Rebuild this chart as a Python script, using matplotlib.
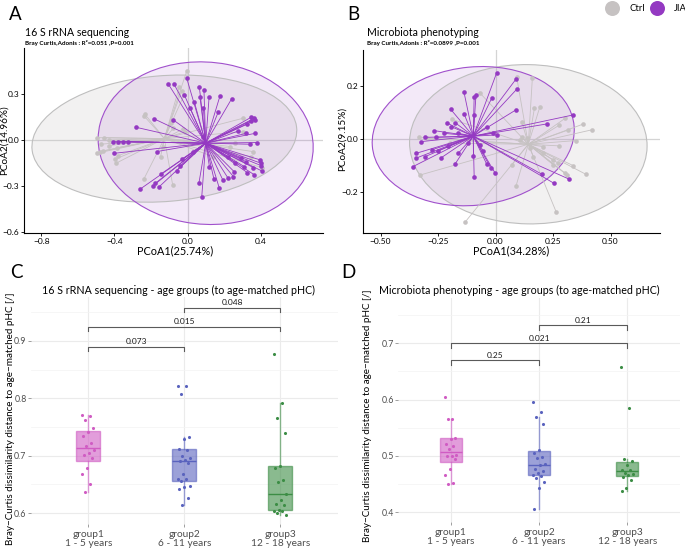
import numpy as np
import matplotlib
matplotlib.use('Agg')
import matplotlib.pyplot as plt
from matplotlib.patches import Ellipse
from matplotlib.lines import Line2D
from matplotlib.ticker import FuncFormatter

plt.rcParams['font.family'] = ['Lato', 'DejaVu Sans']

# ---------------- data ----------------
# Panel A: 16 S rRNA sequencing PCoA
a_jia_x = [-0.106, -0.075, -0.005, -0.018, 0.064, 0.089, 0.067, 0.117, 0.177, 0.241,
           0.036, 0.013, 0.086, 0.168, -0.182, -0.283, -0.078, 0.347, 0.363, 0.368,
           0.345, 0.323, 0.277, 0.319, 0.368, 0.086, -0.407, -0.379, -0.356, -0.328,
           -0.401, 0.341, 0.378, -0.170, -0.033, -0.042, -0.060, -0.146, -0.177, -0.188,
           -0.159, -0.259, 0.062, 0.173, 0.077, 0.223, 0.259, 0.290, 0.319, 0.310,
           0.326, 0.359, 0.365, 0.396, 0.401, 0.401, 0.405, 0.254, 0.192, 0.219,
           0.250, 0.144, 0.119, 0.031]
a_jia_y = [0.365, 0.365, 0.402, 0.293, 0.343, 0.326, 0.283, 0.278, 0.289, 0.270,
           0.250, 0.207, 0.207, 0.185, 0.137, 0.083, 0.130, 0.148, 0.141, 0.130,
           0.126, 0.102, 0.059, 0.043, 0.043, 0.017, -0.011, -0.011, -0.011, -0.011,
           -0.087, -0.028, -0.017, -0.076, -0.126, -0.170, -0.200, -0.222, -0.283, -0.298,
           -0.309, -0.320, -0.278, -0.315, -0.370, -0.109, -0.148, -0.120, -0.141, -0.174,
           -0.213, -0.180, -0.228, -0.130, -0.152, -0.167, -0.202, -0.207, -0.261, -0.246,
           -0.239, -0.257, -0.174, -0.076]
a_ctrl_x = [-0.005, -0.046, -0.033, -0.020, -0.233, -0.239, -0.089, -0.078, -0.027,
            -0.498, -0.458, -0.429, -0.476, -0.429, -0.385, -0.498, -0.480, -0.465, -0.379, -0.398, -0.392,
            -0.137, -0.148, -0.239, -0.082, 0.301, 0.301, 0.405, 0.232, 0.345, -0.015,
            0.259, 0.140, 0.359]
a_ctrl_y = [0.450, 0.343, 0.320, 0.293, 0.167, 0.157, 0.113, 0.076, 0.070,
            0.015, 0.015, 0.000, -0.028, -0.037, -0.050, -0.087, -0.076, -0.072, -0.102, -0.126, -0.152,
            -0.043, -0.109, -0.254, -0.293, 0.141, 0.054, -0.180, -0.043, -0.109, 0.054,
            -0.022, -0.109, -0.076]

# Panel B: Microbiota phenotyping PCoA
b_jia_x = [0.005, 0.088, 0.092, -0.137, -0.093, -0.085, -0.017, 0.089, -0.195, -0.137,
           -0.092, -0.209, -0.193, -0.176, -0.267, -0.306, -0.260, -0.222, -0.162, -0.324,
           -0.346, -0.346, -0.306, -0.360, -0.278, -0.239, -0.205, -0.251, -0.162, -0.176,
           -0.096, -0.093, -0.053, -0.038, -0.020, -0.001, -0.012, 0.005, 0.222, 0.338,
           0.201, 0.254, 0.321, -0.038, -0.067, -0.118]
b_jia_y = [0.248, 0.223, 0.186, 0.174, 0.156, 0.165, 0.152, 0.109, 0.111, 0.094,
           0.090, 0.059, 0.046, 0.061, 0.031, 0.006, 0.006, 0.021, 0.021, -0.010,
           -0.054, -0.072, -0.066, -0.104, -0.041, -0.072, -0.026, -0.044, -0.054, -0.094,
           -0.064, -0.141, -0.045, -0.095, -0.110, -0.129, 0.021, 0.015, 0.056, 0.090,
           -0.132, -0.166, -0.151, 0.046, -0.022, -0.016]
b_ctrl_x = [0.092, 0.160, -0.067, 0.169, 0.193, -0.191, 0.302, 0.276, 0.317, 0.382,
            0.418, -0.333, -0.299, 0.114, 0.114, 0.106, 0.135, 0.150, 0.208, 0.277,
            0.350, 0.208, 0.251, 0.251, 0.273, 0.338, 0.304, 0.310, 0.392, 0.072,
            0.089, 0.263, -0.133, -0.328, -0.198, 0.164]
b_ctrl_y = [0.231, 0.227, 0.171, 0.115, 0.121, 0.074, 0.077, 0.051, 0.034, 0.056,
            0.034, 0.006, 0.002, 0.065, 0.009, -0.004, 0.002, -0.035, -0.029, -0.026,
            -0.006, -0.054, -0.079, -0.097, -0.091, -0.100, -0.129, -0.135, -0.132, -0.096,
            -0.176, -0.272, -0.312, -0.135, -0.016, -0.066]

# Panel C: Bray-Curtis distance, 16 S rRNA sequencing
c_group1 = [0.771, 0.769, 0.762, 0.748, 0.742, 0.735, 0.722, 0.717, 0.710, 0.704,
            0.701, 0.696, 0.678, 0.668, 0.650, 0.636]
c_group2 = [0.8216, 0.8216, 0.807, 0.733, 0.7283, 0.7114, 0.7108, 0.700, 0.6956, 0.692,
            0.691, 0.6875, 0.668, 0.660, 0.6589, 0.6554, 0.6472, 0.6449, 0.642, 0.6268, 0.6146]
c_group3 = [0.877, 0.7913, 0.7662, 0.740, 0.6816, 0.6793, 0.6571, 0.6542, 0.6332, 0.6233,
            0.6152, 0.614, 0.6052, 0.604, 0.6029, 0.600, 0.5965]
c_pvals = ['0.073', '0.015', '0.048']

# Panel D: Bray-Curtis distance, microbiota phenotyping
d_group1 = [0.6047, 0.5653, 0.5647, 0.5324, 0.5306, 0.5212, 0.5182, 0.5124, 0.502, 0.5006,
            0.4994, 0.4941, 0.4765, 0.4665, 0.452, 0.4506]
d_group2 = [0.596, 0.5771, 0.5694, 0.5559, 0.510, 0.5059, 0.4988, 0.4971, 0.4865, 0.4835,
            0.4765, 0.4741, 0.4706, 0.4665, 0.4647, 0.4618, 0.4547, 0.4424, 0.4059]
d_group3 = [0.6574, 0.5859, 0.4947, 0.4905, 0.4841, 0.4753, 0.4747, 0.4706, 0.4676, 0.4659,
            0.4630, 0.4582, 0.4424, 0.4388]
d_pvals = ['0.25', '0.021', '0.21']

group_labels = ['group1\n1 - 5 years', 'group2\n6 - 11 years', 'group3\n12 - 18 years']
legend_labels = ['Ctrl', 'JIA']

# ---------------- styling ----------------
W, H = 685, 551
PURPLE = '#9439C2'
GREY = '#C6C2C2'
BOX_COLS = ['#D05CC3', '#5A63BE', '#3C8D45']
TXT = '#4D4D4D'

fig = plt.figure(figsize=(W / 100, H / 100), dpi=100)


def px_ax(l, t, r, b):
    return fig.add_axes([l / W, 1 - b / H, (r - l) / W, (b - t) / H])


def ftext(x, y, s, **kw):
    fig.text(x / W, 1 - y / H, s, **kw)


def uminus(fmt):
    return FuncFormatter(lambda v, p: (fmt % v).replace('-', '\u2212'))


def pcoa(ax, cx_, cy_, jx_, jy_, xlim, ylim, xticks, yticks, xfmt, yfmt):
    ax.axhline(0, color='#D4D4D4', lw=0.9, zorder=0)
    ax.axvline(0, color='#D4D4D4', lw=0.9, zorder=0)
    sets = [(cx_, cy_, GREY, '#BEBEBE', 0.22, 2), (jx_, jy_, PURPLE, '#A050CC', 0.11, 3)]
    for xs, ys, col, ecol, falpha, z in sets:
        xs = np.asarray(xs)
        ys = np.asarray(ys)
        mx, my = xs.mean(), ys.mean()
        vals, vecs = np.linalg.eigh(np.cov(xs, ys))
        ang = np.degrees(np.arctan2(vecs[1, 1], vecs[0, 1]))
        k = 2.5
        w_, h_ = 2 * k * np.sqrt(vals[1]), 2 * k * np.sqrt(vals[0])
        ax.add_patch(Ellipse((mx, my), w_, h_, angle=ang, facecolor=col, alpha=falpha,
                             edgecolor='none', zorder=1))
        ax.add_patch(Ellipse((mx, my), w_, h_, angle=ang, facecolor='none',
                             edgecolor=ecol, lw=0.8, zorder=1.5))
    for xs, ys, col, ecol, falpha, z in sets:
        xs = np.asarray(xs)
        ys = np.asarray(ys)
        mx, my = xs.mean(), ys.mean()
        for x, y in zip(xs, ys):
            ax.plot([mx, x], [my, y], color=col, lw=0.6, zorder=z)
        ax.scatter(xs, ys, s=11, color=col, zorder=z + 0.5, linewidths=0)
    ax.set_xlim(*xlim)
    ax.set_ylim(*ylim)
    ax.set_xticks(xticks)
    ax.set_yticks(yticks)
    ax.xaxis.set_major_formatter(uminus(xfmt))
    ax.yaxis.set_major_formatter(uminus(yfmt))
    for s in ['top', 'right']:
        ax.spines[s].set_visible(False)
    for s in ['left', 'bottom']:
        ax.spines[s].set_linewidth(0.8)
    ax.tick_params(labelsize=6, length=2, width=0.6, pad=1.5)


axA = px_ax(24.3, 48.3, 322.7, 233.3)
pcoa(axA, a_ctrl_x, a_ctrl_y, a_jia_x, a_jia_y, (-0.893, 0.738), (-0.609, 0.598),
     [-0.8, -0.4, 0.0, 0.4], [-0.6, -0.3, 0.0, 0.3], '%.1f', '%.1f')
axB = px_ax(363.3, 50, 660, 232.7)
pcoa(axB, b_ctrl_x, b_ctrl_y, b_jia_x, b_jia_y, (-0.575, 0.715), (-0.351, 0.333),
     [-0.5, -0.25, 0.0, 0.25, 0.5], [-0.2, 0.0, 0.2], '%.2f', '%.1f')

# titles / labels for A and B
ftext(25, 32, '16 S rRNA sequencing', fontsize=7.6, va='center')
ftext(25, 43, 'Bray Curtis,Adonis : R\u00b2=0.051 ,P=0.001', fontsize=4.5,
      fontweight='bold', va='center')
ftext(366.7, 33, 'Microbiota phenotyping', fontsize=7.6, va='center')
ftext(366.7, 43.5, 'Bray Curtis,Adonis : R\u00b2=0.0899 ,P=0.001', fontsize=4.5,
      fontweight='bold', va='center')
ftext(175, 251, 'PCoA1(25.74%)', fontsize=7.8, ha='center', va='center')
ftext(3.8, 140, 'PCoA2(14.96%)', fontsize=7.2, ha='center', va='center', rotation=90)
ftext(511, 251, 'PCoA1(34.28%)', fontsize=7.8, ha='center', va='center')
ftext(342.5, 139, 'PCoA2(9.15%)', fontsize=7.2, ha='center', va='center', rotation=90)


def boxpanel(ax, groups, ylim, major, minor, pvals, brk_y, tick_d, txt_off):
    for i, (vals, col) in enumerate(zip(groups, BOX_COLS)):
        pos = i + 1
        ax.boxplot([vals], positions=[pos], widths=0.25, patch_artist=True,
                   showfliers=False, showcaps=False, whis=1.5,
                   boxprops=dict(facecolor=col, edgecolor=col, alpha=0.6, lw=1.0),
                   medianprops=dict(color=col, lw=1.0),
                   whiskerprops=dict(color=col, alpha=0.6, lw=1.0), zorder=2)
        n = len(vals)
        jit = ((np.arange(n) * 0.6180339887) % 1.0 - 0.5) * 0.14
        ax.scatter(pos + jit, vals, s=5, color=col, zorder=3, linewidths=0)
    pairs = [(1, 2), (1, 3), (2, 3)]
    for (g1, g2), lab, yl in zip(pairs, pvals, brk_y):
        ax.plot([g1, g1, g2, g2], [yl - tick_d, yl, yl, yl - tick_d], color='#5A5A5A',
                lw=0.8, zorder=4)
        ax.text((g1 + g2) / 2, yl + txt_off, lab, ha='center', va='center', fontsize=6,
                color='#1A1A1A')
    ax.set_xlim(0.4, 3.6)
    ax.set_ylim(*ylim)
    ax.set_xticks([1, 2, 3])
    ax.set_xticklabels(group_labels, fontsize=7.3, color=TXT, linespacing=1.0)
    ax.set_yticks(major)
    ax.set_yticks(minor, minor=True)
    ax.yaxis.set_major_formatter(uminus('%.1f'))
    ax.grid(which='major', color='#EBEBEB', lw=0.8, zorder=0)
    ax.grid(which='minor', axis='y', color='#F3F3F3', lw=0.5, zorder=0)
    ax.set_axisbelow(True)
    for s in ax.spines.values():
        s.set_visible(False)
    ax.tick_params(axis='y', labelsize=6.3, labelcolor=TXT, length=2, width=0.5,
                   color='#777777', pad=1)
    ax.tick_params(axis='x', length=2, width=0.5, color='#777777', pad=2)
    ax.tick_params(which='minor', length=0)


axC = px_ax(30.7, 297.3, 337.9, 524)
boxpanel(axC, [c_group1, c_group2, c_group3], (0.581, 0.976),
         [0.6, 0.7, 0.8, 0.9], [0.65, 0.75, 0.85, 0.95], c_pvals,
         [0.890, 0.924, 0.958], 0.0075, 0.0095)
axD = px_ax(398, 298, 680.2, 522)
boxpanel(axD, [d_group1, d_group2, d_group3], (0.383, 0.78),
         [0.4, 0.5, 0.6, 0.7], [0.45, 0.55, 0.65, 0.75], d_pvals,
         [0.6704, 0.700, 0.7314], 0.0085, 0.008)

ftext(41.7, 290, '16 S rRNA sequencing - age groups (to age-matched pHC)', fontsize=7.7,
      va='center')
ftext(379.3, 290, 'Microbiota phenotyping - age groups (to age-matched pHC)', fontsize=7.7,
      va='center')
ylab = 'Bray\u2212Curtis dissimilarity distance to age\u2212matched pHC [/]'
ftext(10.5, 419, ylab, fontsize=7.1, rotation=90, ha='center', va='center')
ftext(367, 416, ylab, fontsize=7.1, rotation=90, ha='center', va='center')

# panel letters
for lx, ly, s in [(15.7, 15, 'A'), (353, 15, 'B'), (16.5, 273, 'C'), (348, 272, 'D')]:
    ftext(lx, ly, s, fontsize=13.5, ha='center', va='center')

# legend
handles = [Line2D([], [], marker='o', ls='', markersize=10.8, color=GREY, markeredgewidth=0),
           Line2D([], [], marker='o', ls='', markersize=10.8, color=PURPLE, markeredgewidth=0)]
fig.legend(handles, legend_labels, loc='center left', bbox_to_anchor=(604.5 / W, 1 - 8.5 / H),
           ncol=2, frameon=False, fontsize=6.8, handlelength=1.6, handletextpad=1.0,
           columnspacing=0.55, borderpad=0, borderaxespad=0)

fig.savefig('out.png', dpi=100)
